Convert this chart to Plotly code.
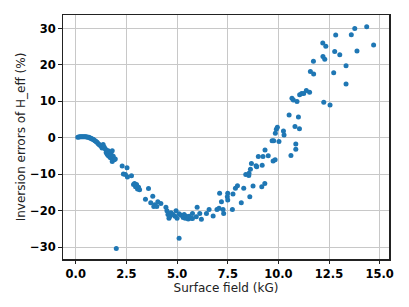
import plotly.graph_objects as go

field_kG = [
    0.10, 0.15, 0.20, 0.25, 0.30, 0.35, 0.40, 0.45, 0.50, 0.55, 0.60, 0.65, 0.70, 0.75, 0.80,
    0.85, 0.90, 0.95, 1.00, 1.05, 1.10, 1.15, 1.20, 1.25, 1.30,
    1.35, 1.40, 1.45, 1.50, 1.50, 1.55, 1.60, 1.60, 1.65, 1.65, 1.70, 1.70, 1.75, 1.75, 1.80,
    1.80, 1.85, 1.85, 1.90, 1.95,
    2.00, 2.29, 2.35, 2.45, 2.53, 2.55, 2.75, 2.85, 2.90, 2.95, 3.00, 3.05, 3.10, 3.15,
    3.44, 3.59, 3.70, 3.80, 3.85, 3.90, 4.00, 4.05, 4.20,
    4.45, 4.50, 4.55, 4.60, 4.65, 4.70, 4.80, 4.90, 4.95, 5.00, 5.10, 5.10,
    5.20, 5.30, 5.35, 5.40, 5.45, 5.50, 5.55, 5.60, 5.70, 5.76, 5.76, 5.95, 5.99, 6.12,
    6.20, 6.45, 6.58, 6.78, 6.97, 7.07, 7.10, 7.19, 7.27, 7.30, 7.48, 7.50, 7.50, 7.73,
    7.76, 7.88, 7.98, 8.17, 8.29, 8.39, 8.54, 8.55, 8.59, 8.62, 8.67, 8.75, 8.90, 8.93,
    9.01, 9.18, 9.20, 9.24, 9.33, 9.34, 9.50, 9.69, 9.74, 9.77, 9.84, 9.85, 9.90, 9.95,
    10.03, 10.25, 10.28, 10.53, 10.62, 10.67, 10.74, 10.82, 10.86, 10.86, 10.92, 10.99,
    11.04, 11.05, 11.15, 11.25, 11.38, 11.54, 11.58, 11.73, 11.74,
    12.19, 12.20, 12.24, 12.29, 12.34, 12.55, 12.73, 12.78, 12.83, 13.03, 13.34, 13.34,
    13.60, 13.77, 13.88, 14.36, 14.70,
]

error_pct = [
    0.2, 0.25, 0.3, 0.3, 0.3, 0.3, 0.3, 0.3, 0.3, 0.25, 0.2, 0.15, 0.0, -0.1, -0.3,
    -0.4, -0.6, -0.8, -1.0, -1.2, -1.5, -1.8, -2.0, -2.3, -2.8,
    -1.8, -2.5, -3.0, -3.3, -4.0, -4.5, -3.5, -4.8, -5.0, -4.2, -4.0, -5.4, -5.5, -4.6, -3.5,
    -6.5, -5.0, -6.0, -6.0, -5.8,
    -30.3, -7.7, -9.9, -10.0, -8.2, -10.7, -10.4, -12.8, -12.5, -13.4, -12.8, -14.0, -13.5, -14.2,
    -16.8, -13.9, -17.8, -16.0, -18.8, -18.3, -18.8, -17.5, -18.0,
    -19.0, -20.0, -21.0, -22.0, -21.5, -20.5, -21.0, -21.5, -20.0, -22.0, -20.8, -27.5,
    -21.2, -21.8, -21.0, -22.0, -21.5, -21.8, -22.2, -21.5, -22.0, -22.1, -20.7, -21.6, -19.0, -20.7,
    -22.3, -20.7, -19.6, -21.4, -19.6, -19.3, -15.2, -17.5, -19.6, -20.7, -16.1, -15.2, -17.0, -19.6,
    -15.4, -13.8, -13.1, -17.8, -13.8, -10.0, -10.3, -9.7, -16.1, -8.6, -7.0, -13.2, -7.6, -7.9,
    -5.1, -13.4, -7.5, -5.1, -12.5, -3.3, -4.9, -0.8, -6.3, -0.8, -6.0, 1.3, 2.4, 2.9,
    -1.0, 1.9, 0.8, 6.3, -4.8, 10.9, 10.4, 3.1, -1.7, -3.1, 10.0, 5.7,
    2.5, 11.8, 12.2, 12.2, 13.0, 12.5, 18.2, 21.0, 17.5,
    26.0, 22.3, 9.8, 21.6, 25.1, 9.0, 17.9, 23.7, 28.2, 22.8, 19.8, 14.8,
    28.3, 30.0, 23.8, 30.5, 25.5,
]

x_ticks = [0.0, 2.5, 5.0, 7.5, 10.0, 12.5, 15.0]
y_ticks = [-30, -20, -10, 0, 10, 20, 30]

fig = go.Figure(
    go.Scatter(
        x=field_kG, y=error_pct, mode="markers",
        marker=dict(color="#1f77b4", size=5, line=dict(width=0)),
    )
)

axis_common = dict(
    showgrid=True, gridcolor="#c8c8c8", gridwidth=1,
    showline=True, linecolor="#222222", linewidth=1.5, mirror=True,
    ticks="outside", ticklen=3.5, tickcolor="#222222", tickwidth=1,
    zeroline=False,
    tickfont=dict(family="DejaVu Sans", size=11.5, color="black", weight="bold"),
    title_font=dict(family="DejaVu Sans", size=12, color="#222222"),
)

fig.update_xaxes(
    range=[-0.63, 15.46], tickvals=x_ticks, ticktext=[f"{v:.1f}" for v in x_ticks],
    title_text="Surface field (kG)", title_standoff=4, **axis_common,
)
fig.update_yaxes(
    range=[-33.2, 33.7], tickvals=y_ticks, ticktext=[str(v).replace("-", "\u2212") for v in y_ticks],
    title_text="Inversion errors of H_eff (%)", title_standoff=2, **axis_common,
)

fig.update_layout(
    width=409, height=307,
    margin=dict(l=63, r=20, t=15, b=48),
    plot_bgcolor="white", paper_bgcolor="white",
    showlegend=False,
)

fig.write_html(
    "out.html",
    config={"displayModeBar": False, "staticPlot": True},
    post_script="document.body.style.margin='0px';",
)
